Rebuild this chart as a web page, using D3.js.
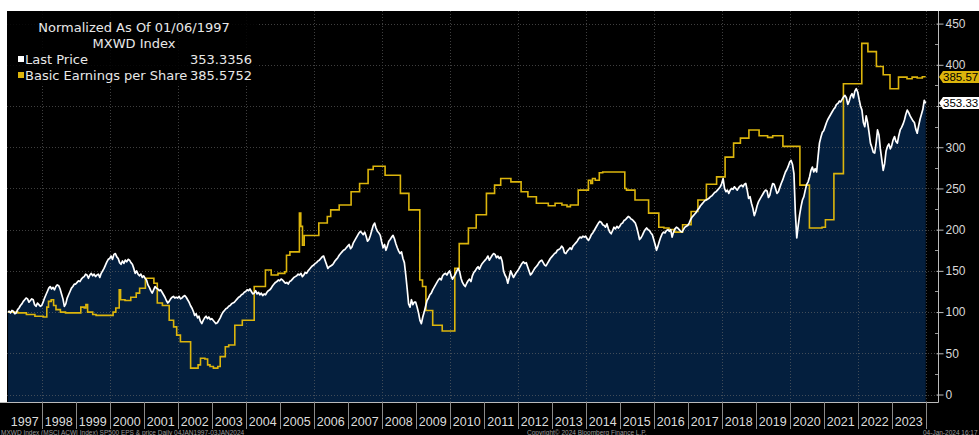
<!DOCTYPE html>
<html>
<head>
<meta charset="utf-8">
<script src="https://cdnjs.cloudflare.com/ajax/libs/d3/7.8.5/d3.min.js"></script>
<style>
  body { margin: 0; background: #fff; }
  text { font-family: "Liberation Sans", Arial, sans-serif; }
</style>
</head>
<body>
<div id="chart"></div>
<script>
// Year labels along the bottom
var yearLabels = ["1997","1998","1999","2000","2001","2002","2003","2004","2005","2006",
  "2007","2008","2009","2010","2011","2012","2013","2014","2015","2016",
  "2017","2018","2019","2020","2021","2022","2023"];

// Right axis ticks
var yTicks = [0, 50, 100, 150, 200, 250, 300, 350, 400, 450];

// MXWD last price, normalized to 100 on 01/06/1997, 24 readings per year
var lastPrice = [
  /*1997*/ 100,101,99,102,101,98,99,103,105,108,110,113,115,117,116,112,114,116,115,109,107,111,109,107,
  /*1998*/ 108,112,117,121,125,129,131,128,130,127,131,133,132,128,122,116,107,110,117,121,125,129,131,134,
  /*1999*/ 134,136,138,137,140,142,143,146,145,141,145,147,144,146,143,145,146,142,147,150,153,157,161,164,
  /*2000*/ 165,168,164,170,171,167,165,160,158,162,159,163,161,164,163,160,158,153,147,150,146,144,146,142,
  /*2001*/ 144,141,139,133,130,126,123,127,131,129,128,126,127,124,121,118,114,111,113,116,118,119,117,118,
  /*2002*/ 117,119,116,117,119,120,118,115,112,108,105,101,96,98,93,95,89,86,90,93,95,92,94,91,
  /*2003*/ 92,90,88,86,87,90,93,97,100,102,104,105,107,108,110,111,112,114,116,118,119,121,122,124,
  /*2004*/ 125,127,126,128,125,122,123,126,122,124,121,123,120,122,121,124,126,127,129,132,134,136,137,139,
  /*2005*/ 138,140,139,137,135,136,134,137,138,140,142,143,144,146,145,147,143,145,148,147,150,152,154,156,
  /*2006*/ 157,159,160,162,163,165,167,168,163,158,153,155,156,157,159,162,164,166,169,171,173,175,176,178,
  /*2007*/ 180,182,177,179,184,187,190,193,196,198,196,194,197,192,186,188,193,199,205,208,202,198,196,193,
  /*2008*/ 185,178,182,175,180,186,188,191,193,189,183,178,174,171,173,165,160,145,128,110,106,115,109,112,
  /*2009*/ 112,106,99,90,86,94,100,107,114,117,121,123,127,130,133,136,139,141,139,144,146,147,145,148,
  /*2010*/ 150,144,140,143,146,150,153,149,141,136,133,131,135,138,140,137,144,148,150,153,155,152,156,159,
  /*2011*/ 161,163,165,168,163,166,169,171,170,166,168,165,167,162,150,145,142,135,142,150,146,142,145,148,
  /*2012*/ 150,153,156,159,161,159,160,155,150,145,147,150,153,155,157,160,162,163,160,157,156,159,162,165,
  /*2013*/ 167,169,171,172,175,176,177,180,178,172,171,174,176,178,176,180,182,184,186,189,191,190,192,191,
  /*2014*/ 192,189,187,190,194,196,199,202,205,208,210,209,206,205,203,207,201,197,195,199,203,201,204,202,
  /*2015*/ 204,207,208,211,212,214,216,215,213,212,210,208,203,196,188,190,193,197,200,202,200,199,196,194,
  /*2016*/ 188,182,175,180,186,191,195,197,196,199,200,198,200,191,197,201,203,202,200,198,197,200,203,204,
  /*2017*/ 205,208,212,215,217,219,221,224,226,229,231,233,235,236,237,238,240,241,243,245,246,248,250,252,
  /*2018*/ 256,262,250,246,248,244,248,250,249,252,250,248,251,253,254,252,255,256,248,238,240,232,226,217,
  /*2019*/ 222,229,234,237,240,243,246,248,247,239,242,250,256,255,250,244,246,251,256,260,265,270,273,277,
  /*2020*/ 282,284,279,268,220,190,205,218,228,236,240,248,255,258,264,272,276,270,274,270,288,305,312,318,
  /*2021*/ 320,325,330,334,337,340,343,346,348,352,353,356,355,358,361,363,360,352,356,362,365,360,368,371,
  /*2022*/ 367,358,350,345,330,325,338,330,318,305,300,294,293,305,321,315,298,285,272,280,295,301,304,298,
  /*2023*/ 302,309,313,307,305,314,321,324,328,333,340,345,342,338,335,332,330,322,317,326,334,340,346,357,
  /*2024*/ 353.3356
];

// Basic EPS steps: [decimal year where the level starts, level]
var epsSteps = [
  [1997.01,100],[1997.30,99],[1997.55,97],[1997.80,95],[1998.05,94],[1998.15,106],[1998.20,113],
  [1998.28,115],[1998.35,108],[1998.42,103],[1998.55,100],[1998.70,99],[1999.15,106],[1999.25,105],
  [1999.30,109],[1999.35,100],[1999.50,97],[1999.60,96],[2000.10,100],[2000.18,105],[2000.28,127],
  [2000.32,115],[2000.45,114],[2000.62,118],[2000.78,123],[2000.88,129],[2001.05,141],[2001.30,135],
  [2001.40,111],[2001.55,108],[2001.75,90],[2001.88,82],[2001.97,72],[2002.08,64],[2002.38,32],
  [2002.60,36],[2002.67,44],[2002.80,43],[2002.88,36],[2002.95,34],[2003.05,32],[2003.18,34],
  [2003.25,46],[2003.40,58],[2003.50,60],[2003.68,84],[2003.90,90],[2004.25,131],[2004.58,151],
  [2004.75,145],[2004.95,147],[2005.15,149],[2005.20,169],[2005.30,173],[2005.58,220],[2005.62,204],
  [2005.67,181],[2005.72,193],[2006.15,208],[2006.40,216],[2006.50,224],[2006.75,230],[2007.10,246],
  [2007.35,256],[2007.60,273],[2007.75,277],[2008.10,266],[2008.55,244],[2008.80,224],[2009.12,139],
  [2009.20,131],[2009.30,102],[2009.50,84],[2009.78,77],[2010.15,153],[2010.28,183],[2010.55,202],
  [2010.78,218],[2011.08,244],[2011.32,254],[2011.50,262],[2011.80,258],[2012.10,246],[2012.30,240],
  [2012.55,232],[2012.90,229],[2013.10,232],[2013.30,230],[2013.45,228],[2013.55,230],[2013.78,248],
  [2014.08,260],[2014.15,256],[2014.20,262],[2014.28,260],[2014.40,269],[2014.50,270],[2015.15,250],
  [2015.20,248],[2015.45,236],[2015.85,220],[2016.15,203],[2016.30,202],[2016.45,200],[2016.62,197],
  [2016.85,206],[2017.10,222],[2017.30,236],[2017.55,255],[2017.85,264],[2018.10,288],[2018.35,305],
  [2018.55,311],[2018.80,321],[2019.10,314],[2019.35,312],[2019.50,314],[2019.80,301],[2020.30,254],
  [2020.58,202],[2020.95,203],[2021.05,212],[2021.30,268],[2021.58,377],[2022.12,426],[2022.30,416],
  [2022.55,398],[2022.75,388],[2022.95,371],[2023.20,385],[2023.45,383],[2023.60,385],[2023.75,384],
  [2023.90,385.5752],[2024.0,385.5752]
];

var width = 979, height = 435;
var plotTop = 11, plotBottom = 402, axisX = 938;

var svg = d3.select("#chart").append("svg")
  .attr("width", width)
  .attr("height", height);

// backgrounds
svg.append("rect").attr("width", width).attr("height", height).attr("fill", "#fff");
svg.append("rect").attr("x", 0).attr("y", plotTop).attr("width", width).attr("height", height - plotTop).attr("fill", "#000");
svg.append("rect").attr("x", 0).attr("y", plotTop).attr("width", 7).attr("height", plotBottom - plotTop).attr("fill", "#fff");

var x = d3.scaleLinear().domain([1997, 2024]).range([7.7, 925.7]);
var y = d3.scaleLinear().domain([0, 450]).range([394.5, 23.6]);

var priceData = lastPrice.map(function(v, i) {
  return [i === 0 ? 1997.01 : 1997 + i / 24, v];
});

// Blue area under price
svg.append("path")
  .datum(priceData)
  .attr("fill", "#041f3e")
  .attr("d", d3.area().x(function(d) { return x(d[0]); }).y0(plotBottom).y1(function(d) { return y(d[1]); }));

// Gridlines
var grid = svg.append("g").attr("stroke", "#6a6a6a").attr("stroke-dasharray", "1,2").attr("stroke-width", 1).attr("opacity", 0.6);
grid.selectAll(".hg").data(yTicks).enter().append("line")
  .attr("x1", 7).attr("x2", axisX)
  .attr("y1", function(d) { return Math.round(y(d)) + 0.5; })
  .attr("y2", function(d) { return Math.round(y(d)) + 0.5; });
grid.selectAll(".vg").data(d3.range(1998, 2025, 2)).enter().append("line")
  .attr("y1", plotTop).attr("y2", plotBottom)
  .attr("x1", function(d) { return Math.round(x(d)) + 0.5; })
  .attr("x2", function(d) { return Math.round(x(d)) + 0.5; });

// EPS step line
svg.append("path")
  .datum(epsSteps)
  .attr("fill", "none")
  .attr("stroke", "#dcb50c")
  .attr("stroke-width", 1.6)
  .attr("d", d3.line().curve(d3.curveStepAfter).x(function(d) { return x(d[0]); }).y(function(d) { return y(d[1]); }));

// Price line
svg.append("path")
  .datum(priceData)
  .attr("fill", "none")
  .attr("stroke", "#fff")
  .attr("stroke-width", 1.7)
  .attr("stroke-linejoin", "round")
  .attr("d", d3.line().x(function(d) { return x(d[0]); }).y(function(d) { return y(d[1]); }));

// Axis frame
svg.append("line").attr("x1", 0).attr("x2", axisX + 0.5).attr("y1", plotBottom + 0.5).attr("y2", plotBottom + 0.5).attr("stroke", "#bbb");
svg.append("line").attr("x1", axisX + 0.5).attr("x2", axisX + 0.5).attr("y1", plotTop).attr("y2", plotBottom + 0.5).attr("stroke", "#bbb");

// Right axis via d3.axisRight (350 sits under the last-price tag)
var yAxis = svg.append("g")
  .attr("transform", "translate(" + (axisX + 0.5) + ",0)")
  .call(d3.axisRight(y).tickValues(yTicks).tickSize(5).tickPadding(2)
    .tickFormat(function(d) { return d === 350 ? "" : d; }));
yAxis.select(".domain").remove();
yAxis.selectAll(".tick line").attr("stroke", "#bbb").attr("x1", -2);
yAxis.selectAll(".tick text").attr("fill", "#d8d8d8").style("font-size", "12px").style("font-family", "Liberation Sans, Arial, sans-serif");
// minor ticks
svg.append("g").selectAll("line").data(d3.range(25, 450, 50)).enter().append("line")
  .attr("x1", axisX - 3).attr("x2", axisX)
  .attr("y1", function(d) { return Math.round(y(d)) + 0.5; })
  .attr("y2", function(d) { return Math.round(y(d)) + 0.5; })
  .attr("stroke", "#999");

// Bottom year labels and separators
var xa = svg.append("g");
xa.selectAll("line").data(d3.range(1998, 2025)).enter().append("line")
  .attr("x1", function(d) { return Math.round(x(d)) + 0.5; })
  .attr("x2", function(d) { return Math.round(x(d)) + 0.5; })
  .attr("y1", plotBottom).attr("y2", 429)
  .attr("stroke", "#8a8a8a");
xa.selectAll("text").data(yearLabels).enter().append("text")
  .attr("x", function(d) { return x(+d + 0.5); })
  .attr("y", 426)
  .attr("text-anchor", "middle")
  .attr("fill", "#dcdcdc")
  .style("font-size", "12.5px")
  .text(function(d) { return d; });

// Last value tags
function tag(v, fill, label) {
  var yy = Math.round(y(v));
  svg.append("path")
    .attr("d", "M" + (axisX + 1) + "," + yy + "L" + (axisX + 5) + "," + (yy - 6) + "L" + width + "," + (yy - 6) +
      "L" + width + "," + (yy + 6) + "L" + (axisX + 5) + "," + (yy + 6) + "Z")
    .attr("fill", fill);
  svg.append("text")
    .attr("x", axisX + 5).attr("y", yy + 4.2)
    .attr("fill", "#000").style("font-size", "11.5px")
    .text(label);
}
tag(385.5752, "#dcb50c", "385.57");
tag(353.3356, "#fff", "353.33");

// Legend
var lg = svg.append("g").style("font-family", "DejaVu Sans, sans-serif");
lg.append("rect").attr("x", 7).attr("y", plotTop).attr("width", 251).attr("height", 74).attr("fill", "#000").attr("opacity", 0.85);
lg.append("text").attr("x", 134).attr("y", 32).attr("text-anchor", "middle").attr("fill", "#e8e8e8").style("font-size", "13px").style("font-family", "DejaVu Sans, sans-serif").text("Normalized As Of 01/06/1997");
lg.append("text").attr("x", 134).attr("y", 48).attr("text-anchor", "middle").attr("fill", "#e8e8e8").style("font-size", "13px").style("font-family", "DejaVu Sans, sans-serif").text("MXWD Index");
var legendRows = [
  { name: "Last Price", value: "353.3356", color: "#fff" },
  { name: "Basic Earnings per Share", value: "385.5752", color: "#dcb50c" }
];
legendRows.forEach(function(r, i) {
  var yy = 64 + i * 16;
  lg.append("rect").attr("x", 18).attr("y", yy - 8).attr("width", 6).attr("height", 6).attr("fill", r.color);
  lg.append("text").attr("x", 25).attr("y", yy).attr("fill", "#e8e8e8").style("font-size", "13px").style("font-family", "DejaVu Sans, sans-serif").text(r.name);
  lg.append("text").attr("x", 252).attr("y", yy).attr("text-anchor", "end").attr("fill", "#e8e8e8").style("font-size", "13px").style("font-family", "DejaVu Sans, sans-serif").text(r.value);
});

// Footer
var foot = svg.append("g").attr("fill", "#9a9a9a").style("font-size", "6.5px");
foot.append("text").attr("x", 1).attr("y", 435).text("MXWD Index (MSCI ACWI Index) SP500 EPS & price  Daily 04JAN1997-03JAN2024");
foot.append("text").attr("x", 527).attr("y", 435).text("Copyright\u00a9 2024 Bloomberg Finance L.P.");
foot.append("text").attr("x", 923).attr("y", 435).text("04-Jan-2024 16:17");
</script>
</body>
</html>
